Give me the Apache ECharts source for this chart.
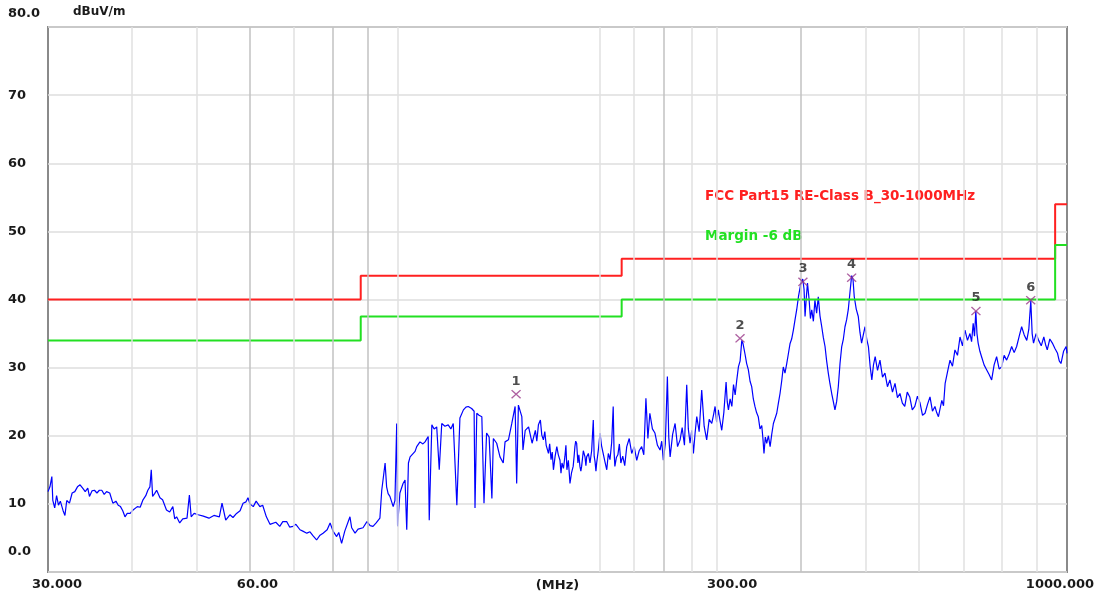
<!DOCTYPE html>
<html>
<head>
<meta charset="utf-8">
<script src="https://cdn.jsdelivr.net/npm/echarts@6/dist/echarts.min.js"></script>
<style>
html,body{margin:0;padding:0;background:#fff;}
#chart{width:1100px;height:593px;}
</style>
</head>
<body>
<div id="chart"></div>
<script>
// ---- data ----
const xTickValues = [30, 60, 300, 1000];
const xTickLabels = ['30.000', '60.00', '300.00', '1000.000'];
const yTickLabels = ['0.0', '10', '20', '30', '40', '50', '60', '70', '80.0'];
const gridFreqs = [40, 50, 60, 70, 80, 90, 100, 200, 225, 250, 275, 300, 400, 500, 600, 700, 800, 900];
const gridFreqsDark = [60, 80, 90, 250, 400];

const limitName = 'FCC Part15 RE-Class B_30-1000MHz';
const marginName = 'Margin -6 dB';
const limitData = [[30, 40], [88, 40], [88, 43.5], [216, 43.5], [216, 46], [960, 46], [960, 54], [1000, 54]];
const marginData = [[30, 34], [88, 34], [88, 37.5], [216, 37.5], [216, 40], [960, 40], [960, 48], [1000, 48]];

const markerLabels = ['1', '2', '3', '4', '5', '6'];
const markerData = [[150.2, 26.1], [324.6, 34.3], [403.0, 42.6], [476.6, 43.2], [731.0, 38.3], [882.6, 39.9]];

const scanData = [
[30.0,11.8],[30.2,12.5],[30.4,14.0],[30.5,10.5],[30.7,9.4],[30.9,11.2],[31.1,9.8],[31.3,10.4],[31.6,9.0],[31.8,8.3],[32.0,10.5],[32.3,10.1],[32.6,11.6],[32.9,11.8],[33.2,12.5],[33.5,12.8],[33.8,12.3],[34.1,11.8],[34.4,12.3],[34.6,11.1],[34.9,11.9],[35.2,12.0],[35.5,11.6],[35.8,12.0],[36.1,12.0],[36.4,11.4],[36.7,11.8],[37.1,11.6],[37.5,10.1],[37.9,10.4],[38.2,9.8],[38.5,9.6],[38.8,9.0],[39.1,8.1],[39.4,8.6],[39.8,8.6],
[40.2,9.1],[40.8,9.6],[41.2,9.5],[41.6,10.6],[42.0,11.2],[42.3,12.0],[42.6,12.5],[42.8,15.0],[43.0,11.1],[43.3,11.5],[43.6,12.0],[44.1,10.9],[44.5,10.6],[45.1,9.1],[45.6,8.8],[46.1,9.6],[46.4,7.8],[46.7,8.1],[47.2,7.2],[47.7,7.8],[48.4,7.9],[48.8,11.3],[49.1,8.1],[49.6,8.6],[50.3,8.4],[51.2,8.2],[52.2,7.9],[53.1,8.3],[54.1,8.1],[54.6,10.1],[55.3,7.6],[56.1,8.4],[56.7,8.0],[57.4,8.6],[58.1,9.0],[58.7,10.1],[59.3,10.3],[59.7,10.9],[60.1,10.0],
[60.8,9.6],[61.4,10.4],[62.2,9.6],[62.8,9.8],[63.6,8.1],[64.4,7.0],[64.8,6.9],[65.7,7.3],[66.6,6.7],[67.3,7.4],[68.2,7.4],[68.9,6.6],[69.7,6.7],[70.4,7.0],[71.4,6.2],[72.1,6.0],[73.1,5.7],[73.9,5.9],[74.7,5.3],[75.6,4.7],[76.5,5.4],[77.3,5.7],[78.4,6.2],[79.2,7.2],[80.0,6.0],[81.0,5.2],[81.6,5.8],[82.4,4.2],[83.3,6.0],[84.8,8.1],[85.3,6.5],[86.3,5.7],[87.2,6.3],[87.8,6.2],
[88.7,6.5],[89.9,7.4],[90.9,6.8],[91.8,6.7],[92.8,7.2],[93.4,7.4],[94.0,7.9],[94.6,12.0],[95.1,13.8],[95.7,16.0],[96.2,12.5],[96.7,11.5],[97.3,11.1],[98.4,9.6],[99.0,10.5],[99.6,21.8],[99.9,6.7],
[100.7,11.6],[101.8,13.0],[102.5,13.5],[103.1,6.2],[103.7,16.0],[104.3,16.9],[105.0,17.0],[106.1,17.7],[106.7,18.4],[107.9,19.1],[109.0,18.8],[109.8,19.1],[111.0,19.9],[111.4,7.6],[112.4,21.6],[113.3,21.0],[114.3,21.3],[115.3,15.0],[116.3,21.8],[117.6,21.4],[118.9,21.6],[120.0,21.0],[121.0,21.8],[122.5,9.8],[123.8,22.6],[125.3,23.8],[126.4,24.2],[127.4,24.3],[128.9,24.0],[130.0,23.6],[130.4,9.4],[131.2,23.3],[132.2,23.0],[133.5,22.8],[134.5,10.1],[135.7,20.4],[136.9,19.8],[138.2,10.8],[138.9,19.6],[140.5,18.9],[142.1,16.9],[143.7,16.0],[144.6,19.1],[146.3,19.4],[148.0,21.8],[149.7,24.3],[150.5,13.0],[151.4,24.5],[153.2,22.8],[153.8,17.9],[155.0,20.8],[156.8,21.3],[158.7,18.9],
[160.5,20.8],[161.3,19.2],[162.2,21.6],[163.3,22.3],[164.1,20.1],[165.0,19.4],[165.8,20.6],[166.6,18.6],[167.9,17.4],[168.6,18.8],[169.4,16.5],[170.1,17.6],[170.8,15.0],[171.8,17.0],[172.8,18.4],[173.7,17.2],[174.7,16.4],[175.3,14.5],[175.9,16.0],[176.8,15.2],[177.7,17.0],[178.3,18.6],[178.9,15.0],[179.8,16.4],[180.8,13.0],[181.8,14.6],[182.8,15.5],[183.4,17.0],[183.9,18.4],[184.4,19.2],[185.0,18.9],[185.8,16.0],[186.4,17.2],[187.1,15.5],[187.7,14.8],[188.2,15.5],[189.3,17.8],[190.4,16.9],[191.0,15.6],[191.5,16.9],[192.6,17.4],[193.7,16.0],[194.8,17.8],[195.9,22.3],[196.5,17.0],[197.1,16.2],[197.7,14.8],[198.2,16.0],[199.4,18.0],[200.5,20.4],[201.5,18.6],[202.6,17.5],[203.9,16.2],[205.2,15.0],[206.3,17.4],[207.5,16.5],[208.7,19.0],[209.8,24.3],[210.4,17.8],[211.0,15.5],[212.1,16.8],[213.2,17.2],[214.3,18.8],[215.4,16.0],
[216.8,17.0],[218.3,15.6],[219.8,18.4],[221.7,19.6],[223.6,17.4],[225.5,18.4],[227.5,16.4],[229.4,17.8],[231.4,18.4],[233.1,17.2],[234.8,25.5],[236.4,19.6],[238.0,23.3],[240.1,21.0],[242.2,20.4],[244.3,18.6],[246.5,17.9],[247.9,19.2],[249.3,16.4],[251.0,18.8],[252.8,28.7],[254.0,19.8],[255.2,16.9],[257.4,20.2],[259.6,21.8],[261.8,18.4],[264.1,19.4],[266.0,21.2],[268.1,18.6],[270.2,27.5],[271.7,21.0],[273.3,18.9],[274.9,20.8],[276.5,17.4],[278.1,20.4],[279.7,22.8],[282.0,20.6],[284.5,26.7],[286.9,21.4],[289.4,19.4],[291.9,22.4],[294.5,21.8],[296.2,23.0],[297.9,24.3],[299.5,22.0],[301.2,23.8],[303.0,22.2],[304.8,20.8],[307.0,23.4],[309.4,27.9],[310.6,25.0],[311.9,23.8],[313.7,25.4],
[315.6,24.3],[317.4,27.5],[319.2,26.0],[321.0,28.2],[322.8,30.1],[324.7,31.0],[326.6,34.0],[328.0,33.5],[330.2,32.0],[332.1,30.6],[334.0,29.7],[336.0,28.0],[337.9,27.2],[339.8,25.4],[341.7,24.3],[343.6,23.4],[345.6,22.8],[347.7,21.0],[349.8,21.5],[351.2,19.6],[352.5,17.4],[354.1,19.8],[355.8,18.9],[357.9,20.0],[360.0,18.4],[362.0,20.2],[364.1,21.8],[366.2,22.0],[368.3,23.3],[370.4,24.8],[372.5,26.2],[374.6,28.0],[376.7,30.1],[378.9,29.2],[381.2,30.6],[383.3,32.0],[385.5,33.5],[387.7,34.2],[390.0,35.5],[392.2,37.0],[394.5,38.5],[397.0,40.5],
[400.4,42.5],[402.8,43.0],[404.6,41.5],[406.0,37.5],[407.7,40.2],[409.4,42.4],[411.7,40.0],[413.6,37.2],[415.5,38.5],[417.8,36.8],[420.0,39.9],[422.5,38.0],[424.9,40.4],[427.4,37.6],[430.0,36.0],[432.4,34.4],[434.9,33.1],[437.3,31.0],[439.8,29.2],[442.4,27.6],[445.0,26.2],[447.5,25.0],[450.0,23.8],[452.6,25.0],[455.2,27.2],[457.9,30.6],[460.6,33.1],[463.2,34.2],[465.8,36.0],[468.4,37.0],[471.1,38.5],[473.8,41.0],[476.6,43.5],[478.8,43.0],[480.9,40.4],[484.2,38.6],
[487.6,37.5],[490.4,35.2],[493.2,33.6],[496.1,34.8],[499.1,36.0],[502.0,34.2],[504.9,33.1],[507.9,30.2],[510.9,28.2],[513.8,30.4],[516.8,31.6],[521.0,29.6],[525.4,31.1],[530.0,28.6],[534.5,29.2],[539.1,27.2],[543.7,28.2],[548.5,26.4],[553.3,27.7],[558.0,25.6],[562.8,26.2],[567.5,24.8],[572.2,24.3],[577.1,26.4],[582.1,25.7],[587.2,23.8],[592.3,24.3],[597.7,25.8],[603.1,24.8],[608.3,23.0],[613.5,23.3],[618.8,24.6],[624.1,25.7],[629.4,23.6],[634.8,24.3],[638.6,23.4],[642.5,22.8],[646.2,24.0],[650.0,25.2],[653.8,24.4],[657.5,27.7],[663.0,29.4],[668.6,31.1],[674.3,30.2],[680.0,32.6],[686.0,31.8],[692.0,34.5],[698.0,33.2],[703.9,35.5],[710.0,34.0],[716.1,35.0],[720.1,33.8],[724.1,36.5],[727.4,34.6],[730.7,38.3],[733.6,35.0],[736.6,33.6],[741.0,32.4],[745.3,31.6],[751.8,30.4],[758.3,29.7],[764.9,29.0],[771.6,28.2],[778.2,30.4],[784.9,31.6],[791.7,29.8],[798.6,30.1],[805.5,31.8],[812.4,31.1],[819.5,32.0],[826.6,33.1],[833.7,32.2],[840.9,33.1],[848.2,34.6],[855.5,36.0],[863.1,34.8],[870.7,34.0],[876.8,35.6],[882.9,39.8],[887.0,35.0],[891.2,33.6],[899.1,35.0],[907.1,34.0],[915.2,33.2],[923.3,34.5],[928.8,33.4],[934.3,32.6],[942.6,34.2],[950.9,33.6],[959.4,32.8],[967.9,32.1],[973.7,31.0],[979.5,30.6],[988.2,32.4],[997.0,33.1],[1000.0,32.1]
];

// ---- chart ----
const FONT = 'DejaVu Sans';
const chart = echarts.init(document.getElementById('chart'), null, {renderer: 'canvas'});

function xIndex(v) {
  for (let i = 0; i < xTickValues.length; i++) {
    if (Math.abs(Math.log10(v) - Math.log10(xTickValues[i])) < 1e-4) return i;
  }
  return -1;
}
const labelFont = {fontFamily: FONT, fontSize: 13, fontWeight: 'bold', color: '#1a1a1a'};

const option = {
  animation: false,
  backgroundColor: '#ffffff',
  grid: {left: 48, right: 33, top: 27, bottom: 21, show: true, borderColor: '#8a8a8a', borderWidth: 2, backgroundColor: '#ffffff', containLabel: false, outerBoundsMode: 'none'},
  legend: {
    orient: 'vertical', left: 695, top: 184, itemGap: 26, itemWidth: 0, itemHeight: 12,
    selectedMode: false, icon: 'rect',
    textStyle: {fontFamily: FONT, fontSize: 13.5, fontWeight: 'bold'},
    data: [
      {name: limitName, textStyle: {color: '#ff2020'}, itemStyle: {opacity: 0}},
      {name: marginName, textStyle: {color: '#22e022'}, itemStyle: {opacity: 0}}
    ]
  },
  xAxis: {
    type: 'log', logBase: 10, min: 30, max: 1000,
    axisLine: {show: false}, axisTick: {show: false}, splitLine: {show: false}, minorSplitLine: {show: false},
    name: '(MHz)', nameLocation: 'middle', nameGap: 7, nameMoveOverlap: false,
    nameTextStyle: labelFont,
    axisLabel: {
      customValues: xTickValues, showMinLabel: true, showMaxLabel: true, margin: 6, hideOverlap: false,
      formatter: function (v) {
        const i = xIndex(v);
        if (i < 0) return '';
        return '{p' + i + '|' + xTickLabels[i] + '}';
      },
      rich: {
        p0: Object.assign({padding: [0, 0, 0, 18]}, labelFont),
        p1: Object.assign({padding: [0, 0, 0, 16]}, labelFont),
        p2: Object.assign({padding: [0, 0, 0, 30]}, labelFont),
        p3: Object.assign({padding: [0, 14, 0, 0]}, labelFont)
      }
    }
  },
  yAxis: {
    type: 'value', min: 0, max: 80, interval: 10,
    axisLine: {show: false}, axisTick: {show: false},
    splitLine: {lineStyle: {color: '#dedede', width: 1.5}},
    name: 'dBuV/m', nameLocation: 'end', nameGap: 9, nameMoveOverlap: false,
    nameTextStyle: {fontFamily: FONT, fontSize: 12, fontWeight: 'bold', color: '#1a1a1a', align: 'left', padding: [0, 0, 0, 25]},
    axisLabel: {
      align: 'left', margin: 40, showMinLabel: true, showMaxLabel: true,
      formatter: function (v) {
        const i = Math.round(v / 10);
        if (i === 0) return '{lo|' + yTickLabels[0] + '}';
        if (i === 8) return '{hi|' + yTickLabels[8] + '}';
        return '{n|' + yTickLabels[i] + '}';
      },
      rich: {
        n: Object.assign({}, labelFont),
        hi: Object.assign({padding: [0, 0, 26, 0]}, labelFont),
        lo: Object.assign({padding: [0, 0, 40, 0]}, labelFont)
      }
    }
  },
  series: [
    {
      name: 'grid', type: 'line', data: [[30, 0]], symbol: 'none', silent: true, z: 1,
      lineStyle: {opacity: 0},
      markLine: {
        silent: true, symbol: ['none', 'none'], label: {show: false}, animation: false,
        data: gridFreqs.map(function (f) {
          return {xAxis: f, lineStyle: {type: 'solid', width: 1.5, color: gridFreqsDark.indexOf(f) >= 0 ? '#c2c2c2' : '#e0e0e0'}};
        })
      }
    },
    {
      name: 'scan', type: 'line', data: scanData, symbol: 'none', z: 3,
      lineStyle: {color: '#0000ff', width: 1.2}
    },
    {
      name: limitName, type: 'line', data: limitData, symbol: 'none', z: 4,
      lineStyle: {color: '#ff2020', width: 2}, itemStyle: {color: '#ff2020'}
    },
    {
      name: marginName, type: 'line', data: marginData, symbol: 'none', z: 4,
      lineStyle: {color: '#22e022', width: 2}, itemStyle: {color: '#22e022'}
    },
    {
      name: 'markers', type: 'scatter', data: markerData, z: 6,
      symbol: 'path://M0,1L1,0L5,4L9,0L10,1L6,5L10,9L9,10L5,6L1,10L0,9L4,5Z',
      symbolSize: [10, 9],
      itemStyle: {color: '#9a3a8a'},
      label: {
        show: true, position: 'top', distance: 2,
        formatter: function (p) { return markerLabels[p.dataIndex]; },
        fontFamily: FONT, fontSize: 13, fontWeight: 'bold', color: '#222'
      }
    }
  ]
};
chart.setOption(option);
</script>
</body>
</html>
